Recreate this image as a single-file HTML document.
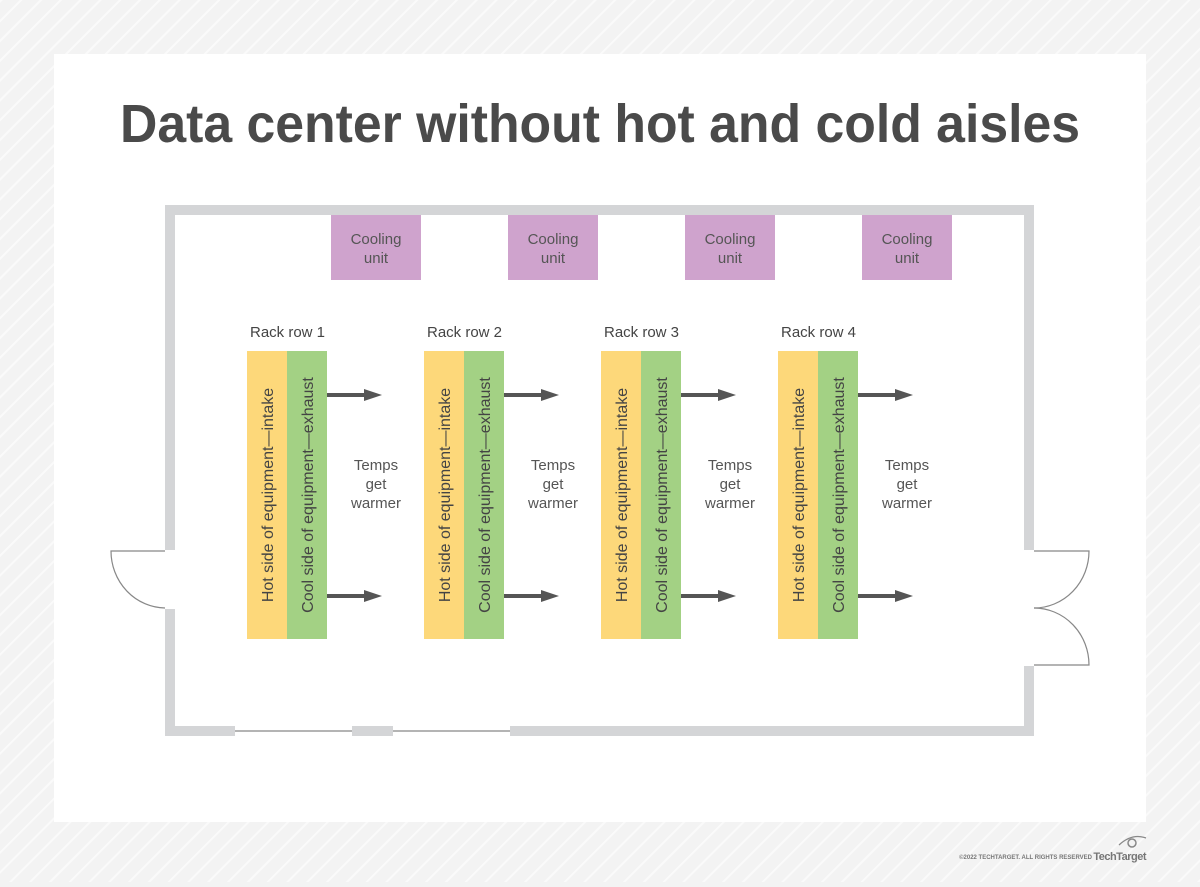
<!DOCTYPE html>
<html><head><meta charset="utf-8"><style>
html,body{margin:0;padding:0}
body{width:1200px;height:882px;overflow:hidden;background:#f3f3f3}
</style></head><body>
<svg width="1200" height="882" xmlns="http://www.w3.org/2000/svg" font-family="Liberation Sans, sans-serif">
<defs>
<pattern id="st" width="14" height="14" patternUnits="userSpaceOnUse" patternTransform="rotate(45)">
<rect width="14" height="14" fill="#f3f3f3"/><rect width="2" height="14" fill="#fafafa"/>
</pattern>
</defs>
<rect width="1200" height="882" fill="url(#st)"/>
<rect x="54" y="54" width="1092" height="768" fill="#fff"/>
<text x="120" y="142" textLength="960" lengthAdjust="spacingAndGlyphs" font-size="54" font-weight="bold" fill="#4a4a4a">Data center without hot and cold aisles</text>

<g fill="#d4d5d7">
<rect x="165" y="205" width="869" height="10"/>
<rect x="165" y="205" width="10" height="345"/>
<rect x="165" y="609" width="10" height="127"/>
<rect x="165" y="726" width="70" height="10"/>
<rect x="352" y="726" width="41" height="10"/>
<rect x="510" y="726" width="524" height="10"/>
<rect x="1024" y="205" width="10" height="345"/>
<rect x="1024" y="666" width="10" height="70"/>
</g>
<g stroke="#888" stroke-width="1.2" fill="none">
<line x1="235" y1="731" x2="352" y2="731"/>
<line x1="393" y1="731" x2="510" y2="731"/>
<path d="M165 551 H111 A55 57 0 0 0 165 608"/>
<path d="M1034 551 H1089 A55 57 0 0 1 1034 608"/>
<path d="M1034 665 H1089 A55 57 0 0 0 1034 608"/>
</g>

<g id="r">
<rect x="331" y="215" width="90" height="65" fill="#cfa3cd"/>
<text x="376" y="244" text-anchor="middle" font-size="15" fill="#555">Cooling</text>
<text x="376" y="263" text-anchor="middle" font-size="15" fill="#555">unit</text>
<rect x="247" y="351" width="40" height="288" fill="#fdd87a"/>
<rect x="287" y="351" width="40" height="288" fill="#a3d184"/>
<text transform="translate(273,495) rotate(-90)" text-anchor="middle" font-size="16" fill="#444">Hot side of equipment—intake</text>
<text transform="translate(313,495) rotate(-90)" text-anchor="middle" font-size="16" fill="#444">Cool side of equipment—exhaust</text>
<line x1="327" y1="395" x2="366" y2="395" stroke="#555" stroke-width="4"/>
<path d="M364 389 L382 395 L364 401Z" fill="#555"/>
<line x1="327" y1="596" x2="366" y2="596" stroke="#555" stroke-width="4"/>
<path d="M364 590 L382 596 L364 602Z" fill="#555"/>
<text x="376" y="470" text-anchor="middle" font-size="15" fill="#555">Temps</text>
<text x="376" y="489" text-anchor="middle" font-size="15" fill="#555">get</text>
<text x="376" y="508" text-anchor="middle" font-size="15" fill="#555">warmer</text>
</g>
<text x="250" y="337" font-size="15" fill="#444">Rack row 1</text>
<use href="#r" x="177"/>
<text x="427" y="337" font-size="15" fill="#444">Rack row 2</text>
<use href="#r" x="354"/>
<text x="604" y="337" font-size="15" fill="#444">Rack row 3</text>
<use href="#r" x="531"/>
<text x="781" y="337" font-size="15" fill="#444">Rack row 4</text>

<text x="1092" y="859" text-anchor="end" font-size="6" font-weight="bold" fill="#777">©2022 TECHTARGET. ALL RIGHTS RESERVED</text>
<text x="1146" y="860" text-anchor="end" font-size="11" font-weight="bold" fill="#777" letter-spacing="-0.5">TechTarget</text>
<circle cx="1132" cy="843" r="4" fill="none" stroke="#888" stroke-width="1.5"/>
<path d="M1119 845 Q1132 833 1146 838" fill="none" stroke="#888" stroke-width="1.2"/>
</svg>
</body></html>
